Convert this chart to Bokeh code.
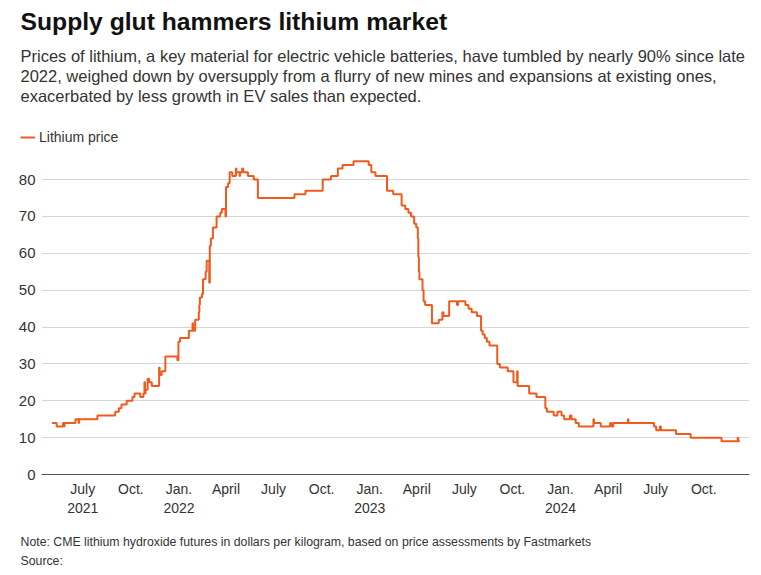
from datetime import datetime
import pandas as pd
from bokeh.plotting import figure
from bokeh.layouts import column
from bokeh.models import Range1d, FixedTicker, Title, Legend, LegendItem, ColumnDataSource
from bokeh.embed import file_html
from bokeh.resources import INLINE

# ---- data ----
price_dates = [
    "2021-05-03", "2021-05-12", "2021-05-24", "2021-05-26", "2021-05-27", "2021-06-17", "2021-06-23", "2021-06-24",
    "2021-07-29", "2021-09-01", "2021-09-08", "2021-09-13", "2021-09-23", "2021-10-04", "2021-10-08", "2021-10-19",
    "2021-10-25", "2021-10-27", "2021-10-28", "2021-10-29", "2021-11-02", "2021-11-05", "2021-11-10", "2021-11-24",
    "2021-11-25", "2021-11-29", "2021-12-06", "2021-12-29", "2021-12-31",
    "2022-01-03", "2022-01-20", "2022-01-27", "2022-01-28", "2022-02-01", "2022-02-08", "2022-02-09", "2022-02-10",
    "2022-02-14", "2022-02-16", "2022-02-21", "2022-02-23", "2022-02-28", "2022-03-01", "2022-03-03", "2022-03-07",
    "2022-03-14", "2022-03-21", "2022-03-24", "2022-03-31", "2022-04-01", "2022-04-05", "2022-04-08", "2022-04-13",
    "2022-04-20", "2022-04-21", "2022-04-27", "2022-04-28", "2022-05-02", "2022-05-04", "2022-05-13", "2022-05-24",
    "2022-06-01", "2022-08-10", "2022-08-31", "2022-10-03", "2022-10-19", "2022-11-01", "2022-11-10", "2022-12-01",
    "2022-12-30",
    "2023-01-04", "2023-01-12", "2023-02-03", "2023-02-15", "2023-03-03", "2023-03-10", "2023-03-16", "2023-03-21",
    "2023-03-27", "2023-03-31", "2023-04-03", "2023-04-04", "2023-04-05", "2023-04-06", "2023-04-12", "2023-04-14",
    "2023-04-17", "2023-04-30", "2023-05-13", "2023-05-20", "2023-05-22", "2023-06-02", "2023-06-17", "2023-06-19",
    "2023-07-03", "2023-07-09", "2023-07-15", "2023-07-25", "2023-08-02", "2023-08-05", "2023-08-09", "2023-08-13",
    "2023-08-18", "2023-09-02", "2023-09-07", "2023-09-22", "2023-10-03", "2023-10-10", "2023-10-11", "2023-11-02",
    "2023-11-16", "2023-12-03", "2023-12-06", "2023-12-19", "2023-12-26",
    "2024-01-03", "2024-01-08", "2024-01-19", "2024-01-22", "2024-01-30", "2024-02-05", "2024-03-04", "2024-03-05",
    "2024-03-18", "2024-04-05", "2024-04-08", "2024-04-11", "2024-05-09", "2024-05-10", "2024-06-28", "2024-07-02",
    "2024-07-09", "2024-07-11", "2024-08-09", "2024-09-06", "2024-11-04", "2024-12-05", "2024-12-06", "2024-12-09",
]
price_values = [
    14, 13, 14, 13, 14, 15, 14, 15,
    16, 17, 18, 19, 20, 21, 22, 21,
    22, 25, 22, 23, 26, 25, 24, 29,
    27, 28, 32, 31, 36,
    37, 39, 41, 39, 42, 44, 46, 48,
    49, 53, 55, 58, 52, 62, 64, 67,
    70, 71, 72, 70, 78, 79, 82, 81,
    83, 82, 81, 82, 83, 82, 81, 80,
    75, 76, 77, 80, 81, 83, 84, 85,
    84,
    82, 81, 77, 76, 73, 72, 71, 70,
    68, 67, 64, 59, 55, 53, 50, 47,
    46, 41, 42, 44, 43, 47, 46, 47,
    46, 45, 44, 43, 39, 38, 37, 36,
    35, 30, 29, 28, 25, 28, 24, 22,
    21, 18, 17, 16, 17,
    16, 15, 16, 15, 14, 13, 15, 14,
    13, 14, 13, 14, 15, 14, 13, 12,
    13, 12, 11, 10, 9, 10, 9, 9,
]
tick_dates = ["2021-07-01", "2021-10-01", "2022-01-01", "2022-04-01", "2022-07-01", "2022-10-01", "2023-01-01",
              "2023-04-01", "2023-07-01", "2023-10-01", "2024-01-01", "2024-04-01", "2024-07-01", "2024-10-01"]
tick_labels = ["July\n2021", "Oct.", "Jan.\n2022", "April", "July", "Oct.", "Jan.\n2023",
               "April", "July", "Oct.", "Jan.\n2024", "April", "July", "Oct."]
y_ticks = [0, 10, 20, 30, 40, 50, 60, 70, 80]
series_name = "Lithium price"

title_text = "Supply glut hammers lithium market"
subtitle_lines = [
    "Prices of lithium, a key material for electric vehicle batteries, have tumbled by nearly 90% since late",
    "2022, weighed down by oversupply from a flurry of new mines and expansions at existing ones,",
    "exacerbated by less growth in EV sales than expected.",
]
note_lines = [
    "Note: CME lithium hydroxide futures in dollars per kilogram, based on price assessments by Fastmarkets",
    "Source:",
]

FONT = "Liberation Sans"
ORANGE = "#ee5b1c"
TEXT = "#333333"
W = 757

src = ColumnDataSource(dict(date=pd.to_datetime(price_dates), price=price_values))


def blank_fig(h):
    f = figure(width=W, height=h, title=None, toolbar_location=None, output_backend="svg",
               x_range=Range1d(0, 1), y_range=Range1d(0, 1),
               x_axis_location=None, y_axis_location=None,
               min_border_left=0, min_border_right=0, min_border_top=0, min_border_bottom=0)
    f.outline_line_color = None
    f.grid.visible = False
    f.frame_align = False
    return f


# ---------- header: headline, standfirst, legend ----------
top = blank_fig(150)
for line in reversed(subtitle_lines):
    top.add_layout(Title(text=line, align="left", offset=20, standoff=0,
                         text_font=FONT, text_font_size="16.5px", text_font_style="normal",
                         text_color=TEXT), "above")
top.add_layout(Title(text=title_text, align="left", offset=20, standoff=15, vertical_align="top",
                     text_font=FONT, text_font_size="24.7px", text_font_style="bold",
                     text_color="#111111"), "above")
# legend key for the series (the series itself lies outside this header's empty frame)
key = top.step("date", "price", source=src, mode="after", line_color=ORANGE, line_width=2)
legend = Legend(items=[LegendItem(label=series_name, renderers=[key])], location=(20, 4),
                orientation="horizontal", padding=0, margin=0, spacing=0,
                glyph_width=15, glyph_height=18, label_height=18, label_standoff=4,
                border_line_color=None, background_fill_alpha=0,
                label_text_font=FONT, label_text_font_size="14px", label_text_color=TEXT)
top.add_layout(legend)

# ---------- chart ----------
p = figure(width=W, height=372, title=None, toolbar_location=None, output_backend="svg",
           x_axis_type="datetime",
           x_range=Range1d(datetime(2021, 4, 13), datetime(2024, 12, 27, 14)),
           y_range=Range1d(0, 87.9),
           min_border_left=41, min_border_right=8, min_border_top=0, min_border_bottom=48)
p.outline_line_color = None
p.step("date", "price", source=src, mode="after", line_color=ORANGE, line_width=2)

tick_ms = [int(pd.Timestamp(d).value // 10**6) for d in tick_dates]
p.xaxis.ticker = FixedTicker(ticks=tick_ms)
p.xaxis.major_label_overrides = {t: lab for t, lab in zip(tick_ms, tick_labels)}
p.xaxis.major_tick_line_color = None
p.xaxis.major_tick_out = 0
p.xaxis.minor_tick_line_color = None
p.xaxis.axis_line_color = "#555555"
p.xaxis.axis_line_width = 1
p.xaxis.major_label_text_font = FONT
p.xaxis.major_label_text_font_size = "14px"
p.xaxis.major_label_text_color = TEXT
p.xaxis.major_label_standoff = 6

p.yaxis.ticker = FixedTicker(ticks=y_ticks)
p.yaxis.axis_line_color = None
p.yaxis.major_tick_line_color = None
p.yaxis.major_tick_out = 0
p.yaxis.minor_tick_line_color = None
p.yaxis.major_label_text_font = FONT
p.yaxis.major_label_text_font_size = "15px"
p.yaxis.major_label_text_color = TEXT
p.yaxis.major_label_standoff = 6

p.xgrid.grid_line_color = None
p.ygrid.ticker = FixedTicker(ticks=y_ticks[1:])
p.ygrid.grid_line_color = "#d6d6d6"
p.ygrid.grid_line_width = 1

# ---------- footer: note and source ----------
bottom = blank_fig(49)
bottom.add_layout(Title(text="\n".join(note_lines), align="left", offset=20, standoff=6,
                        vertical_align="bottom", text_line_height=1.42,
                        text_font=FONT, text_font_size="12.3px", text_font_style="normal",
                        text_color=TEXT), "below")

layout = column(top, p, bottom, spacing=0)
open("out.html", "w").write(file_html(layout, INLINE))
